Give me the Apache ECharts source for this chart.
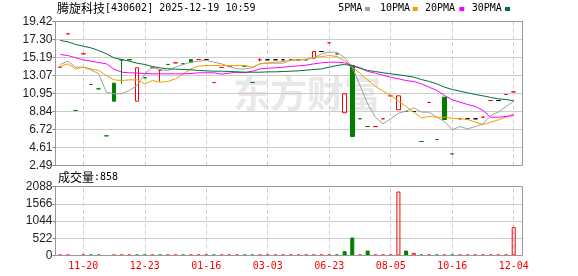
<!DOCTYPE html>
<html><head><meta charset="utf-8">
<script src="https://cdn.jsdelivr.net/npm/echarts@6/dist/echarts.min.js"></script>
<style>html,body{margin:0;padding:0;background:#fff}#c{width:578px;height:276px}</style>
</head><body><div id="c"></div>
<script>
// ---- data ----
const tickLabels = ['11-20','12-23','01-16','03-03','06-23','08-05','10-16','12-04'];
const tickStart = 3, tickEvery = 8, categoryCount = 60;
const priceTicks = ['2.49','4.61','6.72','8.84','10.95','13.07','15.19','17.30','19.42'];
const volTicks = ['0','522','1044','1566','2088'];
const maNames = ['5PMA','10PMA','20PMA','30PMA'];

const openP = [14.05,17.97,8.96,15.62,12.01,11.50,5.98,12.17,14.92,14.95,
  10.05,12.80,13.98,13.70,14.38,14.56,14.45,14.95,14.95,14.95,
  12.24,14.01,14.13,14.25,14.17,12.25,14.92,14.92,14.92,14.92,
  14.92,14.92,14.92,15.11,15.89,16.92,15.60,8.69,14.25,7.99,
  7.07,7.06,7.98,10.68,9.04,8.84,8.84,5.31,9.90,5.55,
  10.52,3.86,7.98,7.98,7.98,8.17,10.13,10.13,10.84,11.15];
const closeP = [14.05,17.97,8.96,15.62,12.01,11.50,5.98,10.05,14.90,14.90,
  13.98,12.80,13.98,13.72,14.36,14.56,14.45,14.63,14.95,14.95,
  12.25,14.01,14.13,14.25,14.17,12.25,14.92,14.92,14.92,14.92,
  14.92,14.92,14.92,15.89,15.89,16.92,15.60,10.92,5.90,7.98,
  7.07,7.07,7.98,10.68,10.68,8.84,8.84,5.31,9.90,5.55,
  7.90,3.86,7.98,7.98,7.98,8.17,10.13,10.13,10.84,11.15];
const lowP = [14.05,17.97,8.96,15.62,12.01,11.50,5.98,10.05,12.09,14.90,
  10.05,12.80,13.98,12.37,14.36,14.56,14.45,14.63,14.95,14.95,
  12.24,14.01,14.13,14.25,14.17,12.25,14.72,14.92,14.92,14.92,
  14.92,14.92,14.92,15.11,15.89,16.92,15.60,8.69,5.90,7.98,
  7.07,7.06,7.98,10.68,9.04,8.84,8.84,5.31,9.90,5.55,
  7.90,3.86,7.98,7.98,7.98,8.17,10.13,10.13,10.84,11.15];
const highP = [14.05,17.97,8.96,15.62,12.01,11.50,5.98,12.17,14.92,14.95,
  13.98,12.80,13.98,13.78,14.38,14.56,14.45,14.95,14.95,14.95,
  12.25,14.01,14.13,14.25,14.17,12.25,15.11,14.92,14.92,14.92,
  14.92,14.92,14.92,15.89,15.89,16.92,15.60,10.92,14.25,7.99,
  7.07,7.07,7.98,10.68,10.68,8.84,8.84,5.31,9.90,5.55,
  10.52,3.86,7.98,7.98,7.98,8.17,10.13,10.13,10.84,11.15];
const volume = [25,25,0,25,25,25,0,25,25,25,
  25,25,25,25,25,25,25,25,25,25,
  25,25,25,25,25,25,25,25,25,25,
  25,25,25,25,25,25,30,130,545,25,
  150,25,25,25,1937,150,80,25,25,25,
  25,25,25,25,25,25,25,25,25,858];
const ma5 = [14.37,14.76,14.05,14.05,13.74,13.27,11.11,10.92,10.92,11.31,
  11.90,13.27,14.05,13.74,13.66,14.05,14.37,14.64,14.76,14.83,
  14.64,14.44,14.13,13.85,13.85,13.97,14.44,14.52,14.52,14.52,
  14.91,14.91,14.95,15.15,15.62,15.81,15.81,15.15,14.05,11.90,
  9.74,8.17,7.39,7.98,8.64,8.88,9.27,8.76,8.76,8.17,
  7.66,6.68,7.07,6.80,7.07,7.39,8.37,8.76,9.43,10.05];
const ma10 = [14.13,14.44,13.85,14.05,13.85,13.66,13.07,12.56,12.48,12.56,
  12.56,12.09,12.48,12.29,12.37,12.68,13.27,13.85,14.17,14.25,
  14.25,14.25,14.25,14.25,14.25,14.05,14.44,14.56,14.64,14.72,
  14.83,14.91,14.99,15.15,15.30,15.42,15.30,14.83,14.05,13.35,
  12.56,11.78,11.23,10.72,10.05,9.43,8.76,8.09,8.25,8.17,
  8.17,8.05,7.98,7.90,7.58,7.31,7.58,7.86,8.17,8.56];
const ma20 = [15.54,15.42,15.15,14.91,14.76,14.60,14.44,13.82,13.46,13.39,
  13.35,13.31,13.27,13.27,13.27,13.27,13.27,13.31,13.39,13.39,
  13.39,13.23,13.35,13.46,13.39,13.58,13.85,13.93,13.97,14.05,
  14.13,14.21,14.29,14.44,14.56,14.64,14.64,14.56,14.25,13.97,
  13.55,13.35,13.10,12.87,12.68,12.48,12.37,12.09,11.70,11.31,
  10.72,10.21,9.94,9.66,9.43,8.96,8.17,8.17,8.25,8.37];
const ma30 = [17.19,17.03,16.72,16.52,16.32,16.01,15.62,15.15,14.95,14.76,
  14.52,14.37,14.13,13.97,13.85,13.82,13.78,13.74,13.66,13.62,
  13.58,13.58,13.54,13.50,13.46,13.46,13.46,13.50,13.50,13.54,
  13.58,13.62,13.70,13.78,13.85,14.05,14.25,14.37,14.21,13.93,
  13.66,13.54,13.39,13.27,13.15,13.03,12.87,12.60,12.37,12.09,
  11.70,11.43,11.23,11.03,10.84,10.68,10.49,10.33,10.25,10.09];

// ---- styles / layout ----
const RED = '#ff0000', GREEN = '#008000', FLAT = '#000000';
const maColors = ['#a0a0a0', '#f0a000', '#ff00ff', '#00703c'];
const MONO = '"DejaVu Sans Mono", monospace';
const CJK = '"Noto Sans CJK SC", sans-serif';
const frame = { left: 55.5, width: 467 };
const dataArea = { left: 56.36, width: 461.2 };
const mainBox = { top: 21.5, height: 144 };
const volBox = { top: 186.5, height: 69 };

const cats = Array.from({ length: categoryCount }, (_, i) => String(i));
const tickIdx = tickLabels.map((_, k) => tickStart + k * tickEvery);

function candleColor(i) {
  if (closeP[i] > openP[i]) return RED;
  if (closeP[i] < openP[i]) return GREEN;
  if (i === 0) return RED;
  if (closeP[i] > closeP[i - 1]) return RED;
  if (closeP[i] < closeP[i - 1]) return GREEN;
  return FLAT;
}
const candleData = cats.map((_, i) => {
  const c = candleColor(i);
  const fill = c === GREEN ? GREEN : 'rgba(255,255,255,0)';
  return {
    value: [openP[i], closeP[i], lowP[i], highP[i]],
    itemStyle: { color: fill, color0: fill, borderColor: c, borderColor0: c, borderColorDoji: c, borderWidth: 1 }
  };
});
const volData = volume.map((v, i) => {
  const up = i === 0 || closeP[i] >= closeP[i - 1];
  return {
    value: v,
    itemStyle: up
      ? { color: 'rgba(255,255,255,0)', borderColor: RED, borderWidth: v ? 1 : 0 }
      : { color: GREEN, borderColor: GREEN, borderWidth: v ? 1 : 0 }
  };
});
const vLines = {
  silent: true, symbol: ['none', 'none'], z: 1, animation: false,
  label: { show: false },
  lineStyle: { color: '#cccccc', type: [4, 3], width: 1 },
  data: tickIdx.map(i => ({ xAxis: String(i) }))
};

const legendTextX = [338.3, 380, 425, 471.7];
const legendBoxX = [365, 412.7, 459.3, 505];
const graphics = [
  { type: 'text', x: 57, y: 8, z: 10, style: {
      text: '{c|腾旋科技}{a|[430602] 2025-12-19 10:59}', verticalAlign: 'middle',
      rich: { c: { fontFamily: CJK, fontSize: 12, fill: '#000' }, a: { fontFamily: MONO, fontSize: 10, fill: '#000' } } } },
  { type: 'text', x: 58, y: 177, z: 10, style: {
      text: '{c|成交量}{a|:' + volume[volume.length - 1] + '}', verticalAlign: 'middle',
      rich: { c: { fontFamily: CJK, fontSize: 12, fill: '#000' }, a: { fontFamily: MONO, fontSize: 10, fill: '#000' } } } },
  { type: 'text', x: 233, y: 94, z: -1, silent: true, style: {
      text: '东方财富', fontFamily: CJK, fontSize: 37, fontWeight: 'bold', fill: '#e8e8e8', verticalAlign: 'middle' } },
  { type: 'rect', z: 100, silent: true, shape: { x: frame.left, y: mainBox.top, width: frame.width, height: mainBox.height },
    style: { fill: 'none', stroke: '#999', lineWidth: 1 } },
  { type: 'rect', z: 100, silent: true, shape: { x: frame.left, y: volBox.top, width: frame.width, height: volBox.height },
    style: { fill: 'none', stroke: '#999', lineWidth: 1 } }
];
maNames.forEach((n, k) => {
  graphics.push({ type: 'text', x: legendTextX[k], y: 8.5, z: 10, style: {
    text: n, fontFamily: MONO, fontSize: 10, fill: '#000', verticalAlign: 'middle' } });
  graphics.push({ type: 'rect', z: 10, shape: { x: legendBoxX[k], y: 7, width: 5, height: 4 },
    style: { fill: maColors[k] } });
});

const yLabel = { color: '#222', fontSize: 12, fontFamily: '"Liberation Sans", Arial, sans-serif', margin: 3 };
const option = {
  animation: false,
  backgroundColor: '#fff',
  grid: [
    { left: frame.left, width: frame.width, top: mainBox.top, height: mainBox.height },
    { left: dataArea.left, width: dataArea.width, top: mainBox.top, height: mainBox.height },
    { left: frame.left, width: frame.width, top: volBox.top, height: volBox.height },
    { left: dataArea.left, width: dataArea.width, top: volBox.top, height: volBox.height }
  ],
  xAxis: [
    { gridIndex: 0, type: 'value', min: 0, max: 1, show: false },
    { gridIndex: 1, type: 'category', data: cats, boundaryGap: true, show: false },
    { gridIndex: 2, type: 'value', min: 0, max: 1, show: false },
    { gridIndex: 3, type: 'category', data: cats, boundaryGap: true,
      axisLine: { show: false }, axisTick: { show: false }, splitLine: { show: false },
      axisLabel: {
        interval: (i) => i >= tickStart && (i - tickStart) % tickEvery === 0,
        formatter: (v) => tickLabels[(parseInt(v, 10) - tickStart) / tickEvery] || '',
        color: RED, fontFamily: MONO, fontSize: 10, margin: 6
      } }
  ],
  yAxis: [
    { gridIndex: 0, type: 'value', min: 0, max: priceTicks.length - 1, interval: 1,
      axisLine: { show: true, lineStyle: { color: '#888' } },
      axisTick: { show: true, length: 3, lineStyle: { color: '#888' } },
      axisLabel: Object.assign({ formatter: v => priceTicks[Math.round(v)] }, yLabel),
      splitLine: { show: true, lineStyle: { color: '#cccccc' } } },
    { gridIndex: 1, type: 'value', min: parseFloat(priceTicks[0]), max: parseFloat(priceTicks[priceTicks.length - 1]), show: false },
    { gridIndex: 2, type: 'value', min: 0, max: volTicks.length - 1, interval: 1,
      axisLine: { show: true, lineStyle: { color: '#888' } },
      axisTick: { show: true, length: 3, lineStyle: { color: '#888' } },
      axisLabel: Object.assign({ formatter: v => volTicks[Math.round(v)] }, yLabel),
      splitLine: { show: true, lineStyle: { color: '#cccccc' } } },
    { gridIndex: 3, type: 'value', min: 0, max: parseFloat(volTicks[volTicks.length - 1]), show: false }
  ],
  graphic: graphics,
  series: [
    { type: 'candlestick', xAxisIndex: 1, yAxisIndex: 1, barWidth: 4, data: candleData, markLine: vLines, z: 2 },
    ...[ma5, ma10, ma20, ma30].map((d, k) => ({
      type: 'line', name: maNames[k], xAxisIndex: 1, yAxisIndex: 1, data: d,
      symbol: 'none', smooth: false, z: 3,
      lineStyle: { color: maColors[k], width: 1 }
    })),
    { type: 'bar', xAxisIndex: 3, yAxisIndex: 3, barWidth: 4, data: volData, markLine: vLines, z: 2 }
  ]
};
const chart = echarts.init(document.getElementById('c'), null, { renderer: 'canvas' });
chart.setOption(option);
</script></body></html>
